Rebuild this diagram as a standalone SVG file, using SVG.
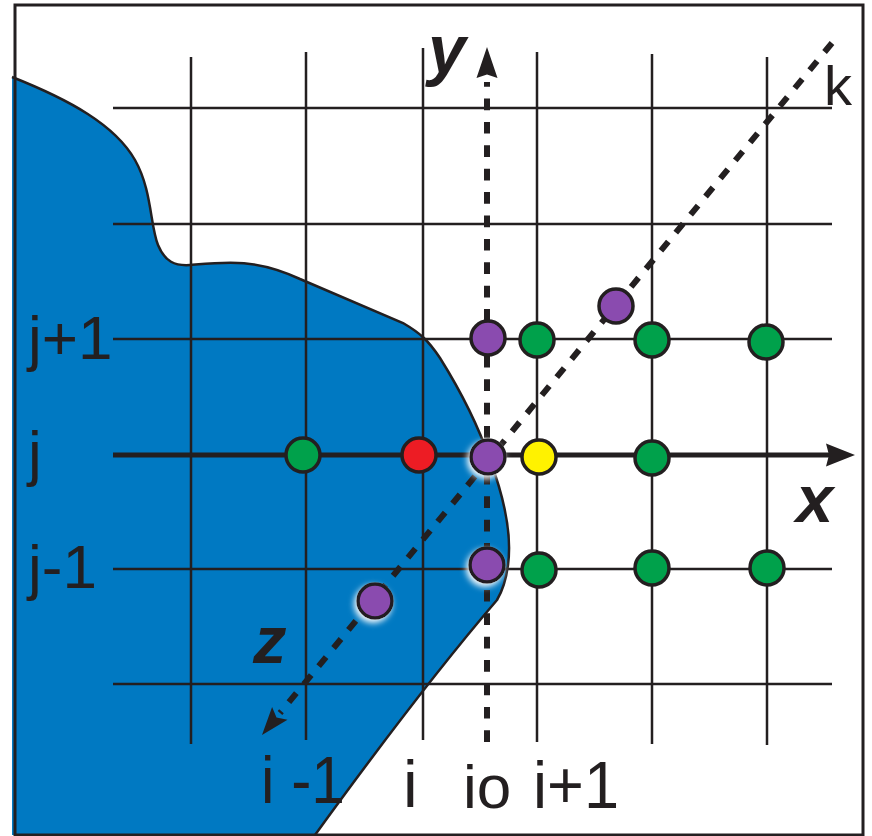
<svg xmlns="http://www.w3.org/2000/svg" width="872" height="836" viewBox="0 0 872 836">
<defs>
<style>
.grid{stroke:#231f20;stroke-width:2.5;fill:none}
.axis{stroke:#231f20;stroke-width:5;fill:none}
.dash{stroke:#231f20;stroke-width:6;fill:none;stroke-dasharray:11.7 11.7}
.pt{stroke:#231f20;stroke-width:3.5}
.g{fill:#00a14b}.r{fill:#ed1c24}.yl{fill:#fff200}.p{fill:#8a4baf}
.lbl{font-family:"Liberation Sans",Arial,sans-serif;fill:#231f20}
.ax{font-family:"Liberation Sans",Arial,sans-serif;font-weight:bold;font-style:italic;fill:#231f20}
</style>
<filter id="glow" x="-50%" y="-50%" width="200%" height="200%">
<feGaussianBlur in="SourceAlpha" stdDeviation="3" result="b"/>
<feOffset dx="-2" dy="3" in="b" result="o"/>
<feFlood flood-color="#ffffff"/>
<feComposite in2="o" operator="in" result="w"/>
<feMerge><feMergeNode in="w"/><feMergeNode in="SourceGraphic"/></feMerge>
</filter>
</defs>
<rect width="872" height="836" fill="#ffffff"/>
<g id="fluid">
<path d="M12,77 C70,100 115,125 135,160 C152,190 150,225 158,245 C165,262 175,266 190,265 C225,262 255,258 300,279 L403,323 C420,333 428,340 440,358 C460,390 478,425 490,460 C505,500 512,535 508,565 C506,580 503,590 497,600 Q420,690 315,835 L12,835 Z" fill="#0079c2"/>
<path d="M12,77 C70,100 115,125 135,160 C152,190 150,225 158,245 C165,262 175,266 190,265 C225,262 255,258 300,279 L403,323 C420,333 428,340 440,358 C460,390 478,425 490,460 C505,500 512,535 508,565 C506,580 503,590 497,600 Q420,690 315,835" fill="none" stroke="#231f20" stroke-width="2.5"/>
</g>
<g id="grid">
<line class="grid" x1="113" y1="108" x2="832" y2="108"/>
<line class="grid" x1="113" y1="224" x2="832" y2="224"/>
<line class="grid" x1="113" y1="339" x2="832" y2="339"/>
<line class="grid" x1="113" y1="569" x2="832" y2="569"/>
<line class="grid" x1="113" y1="684" x2="832" y2="684"/>
<line class="grid" x1="191" y1="57" x2="191" y2="744"/>
<line class="grid" x1="306" y1="52" x2="306" y2="740"/>
<line class="grid" x1="423" y1="48" x2="423" y2="740"/>
<line class="grid" x1="537" y1="52" x2="537" y2="742"/>
<line class="grid" x1="652" y1="54" x2="652" y2="744"/>
<line class="grid" x1="767" y1="57" x2="767" y2="745"/>
</g>
<g id="connectors">
<line class="axis" x1="113" y1="455" x2="830" y2="455"/>
<polygon points="855,455 826,443.5 829,455 826,466.5" fill="#231f20"/>
<line class="dash" x1="487" y1="742" x2="487" y2="82"/>
<polygon points="487,47 476.5,78 487,74.5 497.5,78" fill="#231f20"/>
<line class="dash" x1="832" y1="43" x2="280" y2="713"/>
<polygon points="262,735 272.1,707 276.5,717.5 287.5,719.8" fill="#231f20"/>
</g>
<g id="points">
<circle class="pt g" cx="303" cy="455" r="17"/>
<circle class="pt r" cx="419" cy="455" r="17"/>
<circle class="pt p" cx="488" cy="457" r="17" filter="url(#glow)"/>
<circle class="pt yl" cx="539" cy="457" r="17"/>
<circle class="pt p" cx="488" cy="338" r="17"/>
<circle class="pt g" cx="537" cy="340" r="17"/>
<circle class="pt p" cx="616" cy="306" r="17"/>
<circle class="pt g" cx="652" cy="340" r="17"/>
<circle class="pt g" cx="766" cy="342" r="17"/>
<circle class="pt g" cx="652" cy="458" r="17"/>
<circle class="pt p" cx="487" cy="565" r="17" filter="url(#glow)"/>
<circle class="pt g" cx="539" cy="570" r="17"/>
<circle class="pt g" cx="652" cy="568" r="17"/>
<circle class="pt g" cx="767" cy="568" r="17"/>
<circle class="pt p" cx="375" cy="601" r="17" filter="url(#glow)"/>
</g>
<g id="labels">
<text class="ax" x="428" y="73" font-size="68">y</text>
<text class="ax" x="796" y="522" font-size="67">x</text>
<text class="ax" x="253" y="663" font-size="67">z</text>
<text class="lbl" x="824" y="105" font-size="56">k</text>
<text class="lbl" x="28" y="359" font-size="62">j+1</text>
<text class="lbl" x="28" y="474" font-size="62">j</text>
<text class="lbl" x="28" y="588" font-size="62">j-1</text>
<text class="lbl" x="261" y="803" font-size="66" textLength="84" lengthAdjust="spacingAndGlyphs">i -1</text>
<text class="lbl" x="403" y="807" font-size="66">i</text>
<text class="lbl" x="463" y="808" font-size="62">io</text>
<text class="lbl" x="533" y="808" font-size="66" textLength="86" lengthAdjust="spacingAndGlyphs">i+1</text>
</g>
<rect id="frame" x="15" y="5" width="848" height="830" fill="none" stroke="#231f20" stroke-width="3"/>
</svg>
